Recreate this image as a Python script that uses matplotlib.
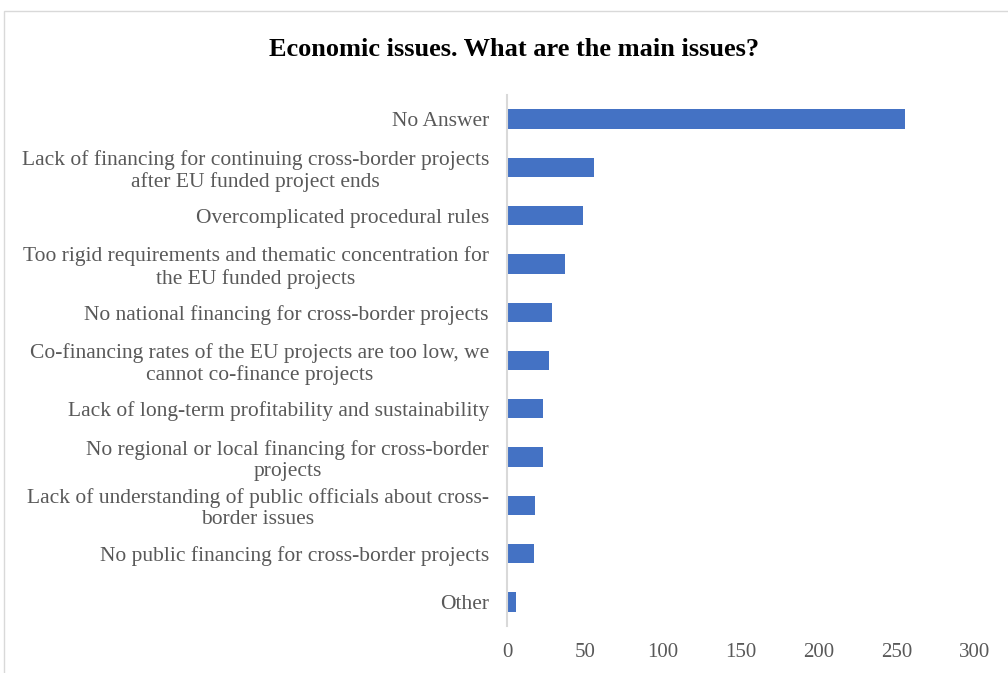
import matplotlib.pyplot as plt
from matplotlib.patches import Rectangle

categories = [
    "No Answer",
    "Lack of financing for continuing cross-border projects\nafter EU funded project ends",
    "Overcomplicated procedural rules",
    "Too rigid requirements and thematic concentration for\nthe EU funded projects",
    "No national financing for cross-border projects",
    "Co-financing rates of the EU projects are too low, we\ncannot co-finance projects",
    "Lack of long-term profitability and sustainability",
    "No regional or local financing for cross-border\nprojects",
    "Lack of understanding of public officials about cross-\nborder issues",
    "No public financing for cross-border projects",
    "Other",
]
values = [255, 56, 49, 37, 29, 27, 23, 23, 18, 17, 6]
xticks = [0, 50, 100, 150, 200, 250, 300]

plt.rcParams['font.family'] = ['Liberation Serif', 'DejaVu Serif']

W, H = 1008, 673
fig = plt.figure(figsize=(W / 100, H / 100), dpi=100)
ax = fig.add_axes([507 / W, 1 - 626 / H, (975 - 507) / W, (626 - 95) / H])

# chart frame
fig.patches.append(Rectangle((4 / W, -0.1), 1.2, 1 - 11 / H + 0.1,
                             transform=fig.transFigure, fill=False,
                             edgecolor='#d9d9d9', linewidth=1))

ypos = list(range(len(categories)))
ax.barh(ypos, values, height=0.4, color='#4472c4')
ax.set_ylim(len(categories) - 0.5, -0.5)
ax.set_xlim(0, 300)
ax.set_xticks(xticks)
ax.set_xticklabels([str(t) for t in xticks], fontsize=15, color='#595959')
ax.set_yticks(ypos)
ax.set_yticklabels(categories, fontsize=15.5, color='#595959',
                   multialignment='center', linespacing=1.15)

for s in ['top', 'right', 'bottom']:
    ax.spines[s].set_visible(False)
ax.spines['left'].set_color('#d9d9d9')
ax.spines['left'].set_linewidth(1.5)
ax.tick_params(axis='both', length=0)
ax.tick_params(axis='x', pad=12)
ax.tick_params(axis='y', pad=13)

fig.text(514 / W, 1 - 50 / H, "Economic issues. What are the main issues?",
         ha='center', va='center', fontsize=19, fontweight='bold', color='black')

fig.savefig('out.png', dpi=100)
